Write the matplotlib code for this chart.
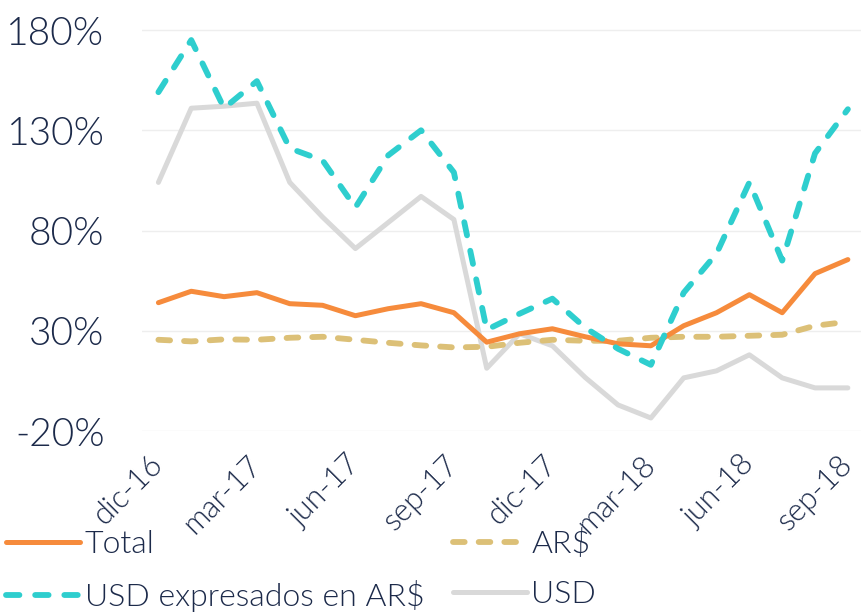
import matplotlib
matplotlib.use("Agg")
import matplotlib.pyplot as plt

months = ["dic-16", "ene-17", "feb-17", "mar-17", "abr-17", "may-17", "jun-17",
          "jul-17", "ago-17", "sep-17", "oct-17", "nov-17", "dic-17", "ene-18",
          "feb-18", "mar-18", "abr-18", "may-18", "jun-18", "jul-18", "ago-18",
          "sep-18"]
total = [44, 49.7, 47, 49, 43.5, 42.7, 37.5, 41, 43.5, 39, 24.3, 28.5, 31, 27,
         23.5, 22.5, 32.5, 39, 48, 39, 58.5, 65.5]
ars = [25.5, 24.7, 25.7, 25.5, 26.5, 27, 25.5, 24, 22.7, 21.7, 22, 24, 25.5, 25,
       25, 26.5, 27, 27, 27.5, 28, 32.5, 34.5]
usd_ars = [149, 175, 141, 154.5, 121, 115, 91.5, 117.5, 130, 109, 30.5, 38.5, 46,
           31.5, 21, 13, 49, 68.5, 104, 65, 118.5, 140.5]
usd = [104, 141, 142, 143.5, 104, 86.7, 71, 84, 97, 85.5, 11.3, 28.5, 22.5, 6.7,
       -7, -13.5, 6.5, 10, 18, 6.5, 1.5, 1.5]
yticks = [-20, 30, 80, 130, 180]
ytick_labels = ["-20%", "30%", "80%", "130%", "180%"]

C_ORANGE = "#F68B3C"
C_TAN = "#DCC077"
C_CYAN = "#2ECECE"
C_GRAY = "#D9D9D9"
C_TEXT = "#1C2A4A"
FW = 300

plt.rcParams['font.family'] = ['Lato', 'DejaVu Sans']

fig = plt.figure(figsize=(8.61, 6.16), dpi=100)
ax = fig.add_axes([142/861, 1-431/616, 1-142/861, 411/616])

x = list(range(len(months)))
l1, = ax.plot(x, total, color=C_ORANGE, lw=3.6, solid_capstyle='round',
              solid_joinstyle='round', label="Total", zorder=4)
l2, = ax.plot(x, ars, color=C_TAN, lw=4.2, dashes=(2.0, 2.4),
              dash_capstyle='round', label="AR$", zorder=3)
l3, = ax.plot(x, usd_ars, color=C_CYAN, lw=4.2, dashes=(2.3, 2.7),
              dash_capstyle='round', label="USD expresados en AR$", zorder=5)
l4, = ax.plot(x, usd, color=C_GRAY, lw=3.6, solid_capstyle='round',
              solid_joinstyle='round', label="USD", zorder=2)

ax.set_xlim(-0.5, 21.4)
ax.set_ylim(-20, 185)
ax.set_yticks(yticks)
ax.set_yticklabels(ytick_labels, fontsize=28, color=C_TEXT, fontweight=FW)
tick_pos = list(range(0, len(months), 3))
ax.set_xticks(tick_pos)
ax.set_xticklabels([months[i] for i in tick_pos], rotation=45, ha='right',
                   va='center', rotation_mode='anchor', fontsize=22,
                   color=C_TEXT, fontweight=FW)
ax.tick_params(axis='both', length=0)
ax.tick_params(axis='y', pad=27)
ax.tick_params(axis='x', pad=21)
ax.grid(axis='y', color='#EEEEEE', lw=1)
ax.set_axisbelow(True)
for s in ax.spines.values():
    s.set_visible(False)

leg = fig.legend(handles=[l1, l3, l2, l4], ncol=2, loc='upper left',
                 bbox_to_anchor=(0.0, 1-523/616), frameon=False,
                 handlelength=2.3, handletextpad=0.15,
                 columnspacing=0.9, labelspacing=0.66, borderaxespad=0,
                 borderpad=0.2, prop={'size': 23, 'weight': FW})
for t in leg.get_texts():
    t.set_color(C_TEXT)

fig.savefig("out.png", dpi=100)
